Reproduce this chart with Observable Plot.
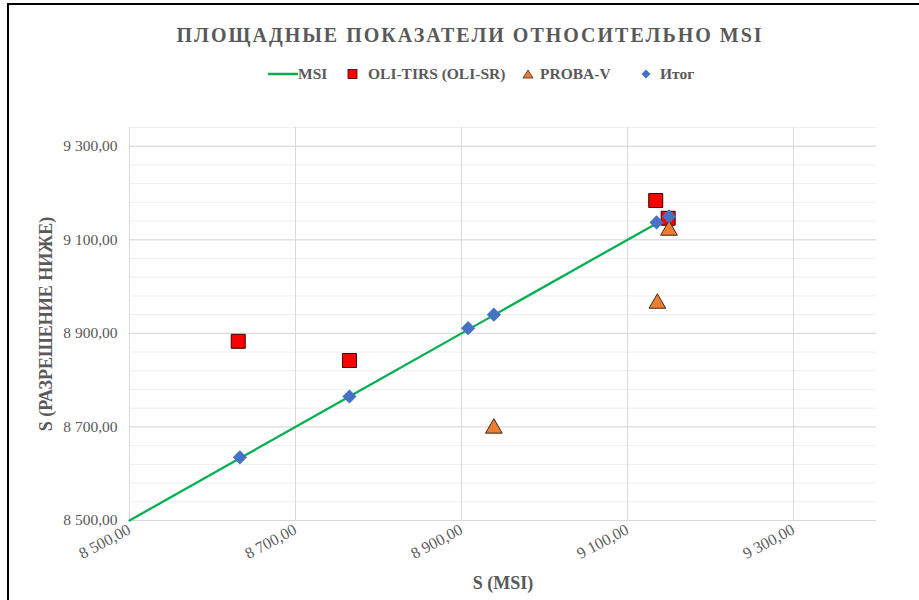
<!DOCTYPE html>
<html><head><meta charset="utf-8">
<script src="https://cdn.jsdelivr.net/npm/d3@7"></script>
<script src="https://cdn.jsdelivr.net/npm/@observablehq/plot@0.6"></script>
<style>
html,body{margin:0;padding:0;background:#fff;width:919px;height:600px;overflow:hidden;font-family:'Liberation Serif','Times New Roman',serif;}
#frame{position:absolute;left:7px;top:3px;width:2000px;height:2000px;border-left:2px solid #000;border-top:2px solid #000;}
#title{position:absolute;left:0;top:24px;width:940px;text-align:center;font-family:'Liberation Serif';font-weight:bold;font-size:20px;letter-spacing:2px;color:#595959;line-height:22px;white-space:nowrap;}
.lg{position:absolute;top:65px;height:18px;line-height:18px;font-family:'Liberation Serif';font-weight:bold;font-size:15.5px;color:#595959;white-space:nowrap;}
.lg svg{position:absolute;}
#chart{position:absolute;left:0;top:100px;}
#chart svg text{font-family:'Liberation Serif','Times New Roman',serif !important;}
g[aria-label="y-axis label"] text, g[aria-label="x-axis label"] text{font-weight:bold;font-size:18px;}
g[aria-label="x-axis tick label"] text{font-size:16px;}
</style></head>
<body>
<div id="frame"></div>
<div id="title">ПЛОЩАДНЫЕ ПОКАЗАТЕЛИ ОТНОСИТЕЛЬНО MSI</div>
<div id="legend"></div>
<div id="chart"></div>
<script>
// ---- data ----
const msiX   = [8633, 8765, 8908, 8939, 9135, 9150];   // S (MSI)
const itogY  = [8635, 8765, 8911, 8940, 9137, 9150];   // Итог
const oliX   = [8631, 8765, 9134, 9149];
const oliY   = [8883, 8842, 9184, 9146];               // OLI-TIRS (OLI-SR)
const probaX = [8939, 9136, 9150];
const probaY = [8697, 8964, 9120];                     // PROBA-V
const msiLineX = [8500, 8633, 8765, 8908, 8939, 9135]; // MSI line
const msiLineY = [8500, 8633, 8765, 8908, 8939, 9135];
const xTicks = [8500, 8700, 8900, 9100, 9300];
const yTicks = [8500, 8700, 8900, 9100, 9300];
const yMinor = d3.range(8500, 9341, 40);
const seriesNames = ["MSI", "OLI-TIRS (OLI-SR)", "PROBA-V", "Итог"];
const colors = {line:"#00b050", oli:"#ff0000", proba:"#ed7d31", itog:"#4472c4"};

const fmt = d3.formatLocale({decimal:",", thousands:" ", grouping:[3], currency:["",""]}).format(",.2f");

// ---- legend ----
const lg = document.getElementById("legend");
const items = [
  {left:268, name:seriesNames[0], svg:`<svg width="30" height="18" style="left:0;top:0"><line x1="0" x2="30" y1="9" y2="9" stroke="${colors.line}" stroke-width="2.5"/></svg>`, tx:30},
  {left:347, name:seriesNames[1], svg:`<svg width="12" height="18" style="left:0;top:0"><rect x="1" y="4.5" width="9" height="9" fill="${colors.oli}" stroke="#3a0000" stroke-width="0.8"/></svg>`, tx:21},
  {left:522, name:seriesNames[2], svg:`<svg width="12" height="18" style="left:0;top:0"><path d="M6,5 L11,13 L1,13 Z" fill="${colors.proba}" stroke="#3a2a1a" stroke-width="0.8"/></svg>`, tx:18},
  {left:640, name:seriesNames[3], svg:`<svg width="12" height="18" style="left:0;top:0"><path d="M6,4.5 L10.5,9 L6,13.5 L1.5,9 Z" fill="${colors.itog}"/></svg>`, tx:20}
];
for (const it of items) {
  const d = document.createElement("div");
  d.className = "lg";
  d.style.left = it.left + "px";
  d.innerHTML = it.svg + `<span style="position:absolute;left:${it.tx}px;top:0">${it.name}</span>`;
  lg.appendChild(d);
}

// ---- chart ----
const chart = Plot.plot({
  width: 919, height: 500,
  marginLeft: 129, marginRight: 43, marginTop: 27, marginBottom: 80,
  style: {fontFamily: "'Liberation Serif', 'Times New Roman', serif", fontSize: "15.5px", color: "#595959", background: "transparent", overflow: "visible"},
  x: {domain: [8500, 9400]},
  y: {domain: [8500, 9340]},
  marks: [
    Plot.ruleY(yMinor, {stroke: "#efefef", strokeWidth: 1}),
    Plot.ruleY(yTicks, {stroke: "#d9d9d9", strokeWidth: 1}),
    Plot.ruleX(xTicks, {stroke: "#d9d9d9", strokeWidth: 1}),
    Plot.axisY({ticks: yTicks, tickSize: 0, tickPadding: 12, tickFormat: fmt,
      label: "S (РАЗРЕШЕНИЕ НИЖЕ)", labelAnchor: "center", labelOffset: 90, labelArrow: "none"}),
    Plot.axisX({ticks: xTicks, tickSize: 0, tickPadding: 8, tickRotate: -28, tickFormat: fmt,
      label: "S (MSI)", labelAnchor: "center", labelOffset: 68, labelArrow: "none"}),
    Plot.line(msiLineX, {x: msiLineX, y: msiLineY, stroke: colors.line, strokeWidth: 2.25}),
    Plot.dot(oliX, {x: oliX, y: oliY, symbol: "square", r: 7.9, fill: colors.oli, stroke: "#3a0000", strokeWidth: 1}),
    Plot.dot(probaX, {x: probaX, y: probaY, symbol: "triangle", r: 6.2, fill: colors.proba, stroke: "#3a2a1a", strokeWidth: 1}),
    Plot.dot(msiX, {x: msiX, y: itogY, symbol: "diamond2", r: 6.4, fill: colors.itog, stroke: "none"})
  ]
});
document.getElementById("chart").appendChild(chart);
</script>
</body></html>
